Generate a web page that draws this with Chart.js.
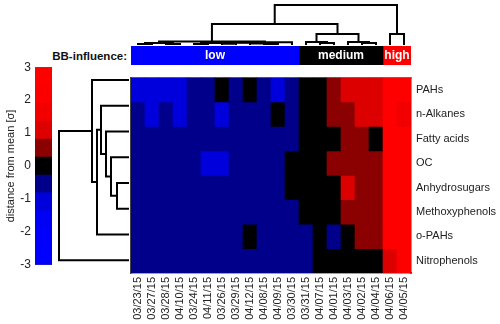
<!DOCTYPE html>
<html><head><meta charset="utf-8">
<script src="https://cdn.jsdelivr.net/npm/chart.js@4.4.1/dist/chart.umd.min.js"></script>
<style>
html,body{margin:0;padding:0;background:#fff;}
body{width:500px;height:324px;position:relative;overflow:hidden;font-family:"Liberation Sans",Arial,sans-serif;}
canvas{position:absolute;}
#bb{position:absolute;left:0;top:49px;width:127px;text-align:right;font-weight:bold;font-size:11.5px;color:#111;line-height:14px;}
</style></head><body>
<div id="bb">BB-influence:</div>
<canvas id="cb" width="56" height="220" style="left:0;top:56px"></canvas>
<canvas id="hdr" width="280" height="19" style="left:131px;top:46px"></canvas>
<canvas id="dcol" width="280" height="45" style="left:131px;top:0px"></canvas>
<canvas id="drow" width="81" height="206" style="left:48px;top:67px"></canvas>
<canvas id="hm" width="370" height="258" style="left:130px;top:66px"></canvas>
<script>
// ---------- data ----------
const dates = ['03/23/15','03/27/15','03/28/15','04/10/15','03/24/15','04/11/15','03/26/15','03/29/15','04/12/15','04/08/15','04/09/15','03/30/15','03/31/15','04/07/15','04/01/15','04/03/15','04/02/15','04/04/15','04/06/15','04/05/15'];
const compounds = ['PAHs','n-Alkanes','Fatty acids','OC','Anhydrosugars','Methoxyphenols','o-PAHs','Nitrophenols'];

const pahs           = [-1.1,-1.1,-1.1,-1.1,-0.5,-0.5, 0.0,-0.5, 0.0,-0.5,-1.1,-0.5, 0.0, 0.0, 0.5, 1.1, 1.1, 1.1, 2.6, 2.6];
const nAlkanes       = [-0.5,-1.1,-0.5,-1.1,-0.5,-0.5,-1.1,-0.5,-0.5,-0.5, 0.0,-0.5, 0.0, 0.0, 0.5, 0.5, 1.1, 1.1, 2.6, 1.7];
const fattyAcids     = [-0.5,-0.5,-0.5,-0.5,-0.5,-0.5,-0.5,-0.5,-0.5,-0.5,-0.5,-0.5, 0.0, 0.0, 0.0, 0.5, 0.5, 0.0, 2.6, 2.6];
const oc             = [-0.5,-0.5,-0.5,-0.5,-0.5,-1.1,-1.1,-0.5,-0.5,-0.5,-0.5, 0.0, 0.0, 0.0, 0.5, 0.5, 0.5, 0.5, 2.6, 2.6];
const anhydrosugars  = [-0.5,-0.5,-0.5,-0.5,-0.5,-0.5,-0.5,-0.5,-0.5,-0.5,-0.5, 0.0, 0.0, 0.0, 0.0, 1.1, 0.5, 0.5, 2.6, 2.6];
const methoxyphenols = [-0.5,-0.5,-0.5,-0.5,-0.5,-0.5,-0.5,-0.5,-0.5,-0.5,-0.5,-0.5, 0.0, 0.0, 0.0, 0.5, 0.5, 0.5, 2.6, 2.6];
const oPAHs          = [-0.5,-0.5,-0.5,-0.5,-0.5,-0.5,-0.5,-0.5, 0.0,-0.5,-0.5,-0.5,-0.5, 0.0,-0.5, 0.0, 0.5, 0.5, 2.6, 2.6];
const nitrophenols   = [-0.5,-0.5,-0.5,-0.5,-0.5,-0.5,-0.5,-0.5,-0.5,-0.5,-0.5,-0.5,-0.5, 0.0, 0.0, 0.0, 0.0, 0.0, 1.1, 2.6];

const bbGroups = ['low','medium','high'];
const bbCounts = [12, 6, 2];
const bbColors = ['#0000ff','#000000','#ff0000'];

const cbTicks = [-3,-2,-1,0,1,2,3];
const cmapColors = ['#0000ff','#0000fc','#0000f4','#0000dd','#00008b','#000000','#8b0000','#dd0000','#f20000','#fc0000','#ff0000'];

// linkage: [childA, childB, height]; leaves first, new nodes numbered after leaves
const colLinks = [
  [0,1,1],[2,3,1],[20,21,2],[4,5,1],[6,7,1.2],[23,24,2],[9,10,1],[8,26,1.5],[25,27,2.2],[28,11,2.8],[22,29,3.5],
  [13,14,2],[12,31,3],[16,17,2],[15,33,3],[32,34,11],[18,19,11],[30,35,21],[37,36,40]
];
const rowLinks = [[4,5,12],[3,8,18],[2,9,23],[1,10,28],[11,6,32],[0,12,37],[13,7,70]];

// ---------- helpers ----------
const FF = '"Liberation Sans", Arial, sans-serif';
const heatValues = [pahs, nAlkanes, fattyAcids, oc, anhydrosugars, methoxyphenols, oPAHs, nitrophenols];
function colorFor(v){
  const n = cmapColors.length;
  let i = Math.floor((v - cbTicks[0]) / (cbTicks[cbTicks.length-1] - cbTicks[0]) * n);
  i = Math.max(0, Math.min(n-1, i));
  return cmapColors[i];
}
function dendroSets(links, n, horizontal){
  const pos = [], ht = [];
  for (let i=0;i<n;i++){ pos[i]=i; ht[i]=0; }
  return links.map(([a,b,h],k)=>{
    const id = n+k;
    const pts = [[pos[a],ht[a]],[pos[a],h],[pos[b],h],[pos[b],ht[b]]];
    pos[id] = (pos[a]+pos[b])/2; ht[id] = h;
    return {
      data: pts.map(([p,q]) => horizontal ? {x:q, y:p} : {x:p, y:q}),
      showLine:true, borderColor:'#000', borderWidth:2, pointRadius:0, tension:0,
      borderJoinStyle:'miter', clip:false, fill:false
    };
  });
}
const common = {responsive:false, animation:false, events:[], plugins:{legend:{display:false}, tooltip:{enabled:false}}};

// ---------- colorbar ----------
const nC = cmapColors.length;
const cbSets = cmapColors.map((c,i)=>({
  data:[[cbTicks[0] + i*(cbTicks[cbTicks.length-1]-cbTicks[0])/nC, cbTicks[0] + (i+1)*(cbTicks[cbTicks.length-1]-cbTicks[0])/nC]],
  backgroundColor:c, borderWidth:0, barPercentage:1, categoryPercentage:1, grouped:false
}));
cbSets.push({data:[[cbTicks[0], cbTicks[cbTicks.length-1]]], backgroundColor:'rgba(0,0,0,0)', borderColor:'#333', borderWidth:1, borderSkipped:false, barPercentage:1, categoryPercentage:1, grouped:false});
new Chart(document.getElementById('cb'), {
  type:'bar',
  data:{labels:['σ'], datasets:cbSets},
  options:{...common, layout:{padding:{top:10,bottom:11,right:4,left:0}},
    scales:{
      x:{display:false},
      y:{position:'left', min:cbTicks[0], max:cbTicks[cbTicks.length-1], grid:{display:false, drawTicks:false}, border:{display:false},
         afterBuildTicks:s=>{ s.ticks = cbTicks.map(v=>({value:v})); },
         ticks:{padding:4, color:'#222', font:{size:12, family:FF}},
         title:{display:true, text:'distance from mean [σ]', color:'#222', font:{size:11, family:FF}, padding:{top:4,bottom:0}},
         afterFit:s=>{ s.width = 35; }}
    }}
});

// ---------- header bar ----------
let acc = 0;
const hdrSets = bbGroups.map((g,i)=>{ const d={label:g, data:[[acc, acc+bbCounts[i]]], backgroundColor:bbColors[i], borderWidth:0, barPercentage:1, categoryPercentage:1, grouped:false}; acc+=bbCounts[i]; return d; });
const hdrLabels = {id:'hdrLabels', afterDatasetsDraw(chart){
  const ctx = chart.ctx; ctx.save();
  ctx.fillStyle='#fff'; ctx.font='bold 12px '+FF; ctx.textAlign='center'; ctx.textBaseline='middle';
  chart.data.datasets.forEach((ds,i)=>{ const el = chart.getDatasetMeta(i).data[0]; ctx.fillText(ds.label, (el.x+el.base)/2, el.y+0.5); });
  ctx.restore();
}};
new Chart(document.getElementById('hdr'), {
  type:'bar',
  data:{labels:['BB'], datasets:hdrSets},
  options:{...common, indexAxis:'y', layout:{padding:0},
    scales:{x:{display:false, min:0, max:dates.length}, y:{display:false}}},
  plugins:[hdrLabels]
});

// ---------- column dendrogram ----------
new Chart(document.getElementById('dcol'), {
  type:'scatter',
  data:{datasets:dendroSets(colLinks, dates.length, false)},
  options:{...common, layout:{padding:0},
    scales:{x:{display:false, type:'linear', min:-0.5, max:dates.length-0.5}, y:{display:false, type:'linear', min:0, max:45}}}
});

// ---------- row dendrogram ----------
new Chart(document.getElementById('drow'), {
  type:'scatter',
  data:{datasets:dendroSets(rowLinks, compounds.length, true)},
  options:{...common, layout:{padding:0},
    scales:{x:{display:false, type:'linear', min:0, max:81, reverse:true}, y:{display:false, type:'linear', min:-0.5, max:compounds.length-0.5, reverse:true}}}
});

// ---------- heatmap ----------
new Chart(document.getElementById('hm'), {
  type:'bar',
  data:{labels:dates, datasets:compounds.map((name,r)=>({
    label:name, data:dates.map(()=>1), backgroundColor:heatValues[r].map(colorFor),
    borderWidth:0, barPercentage:1, categoryPercentage:1
  }))},
  options:{...common, layout:{padding:{left:1, top:1}},
    scales:{
      x:{stacked:true, position:'bottom', grid:{display:false, drawTicks:false}, border:{display:true, color:'#444', width:1.5},
         ticks:{minRotation:90, maxRotation:90, autoSkip:false, padding:4, color:'#222', font:{size:11, family:FF}},
         afterFit:s=>{ s.height = 51; }},
      y:{stacked:true, position:'right', min:0, max:compounds.length, reverse:true, grid:{display:false, drawTicks:false},
         border:{display:true, color:'#444', width:1.5},
         afterBuildTicks:s=>{ s.ticks = compounds.map((_,i)=>({value:i+0.5})); },
         ticks:{padding:5, color:'#222', font:{size:11, family:FF}, callback:v=>compounds[Math.floor(v)]},
         afterFit:s=>{ s.width = 89; }},
      x2:{type:'category', position:'top', labels:dates, grid:{display:false, drawTicks:false}, ticks:{display:false},
          border:{display:true, color:'#808080', width:2}, afterFit:s=>{ s.height = 0; }},
      y2:{type:'linear', position:'left', min:0, max:compounds.length, grid:{display:false, drawTicks:false}, ticks:{display:false},
          border:{display:true, color:'#444', width:1.5}, afterFit:s=>{ s.width = 0; }}
    }}
});
</script>
</body></html>
